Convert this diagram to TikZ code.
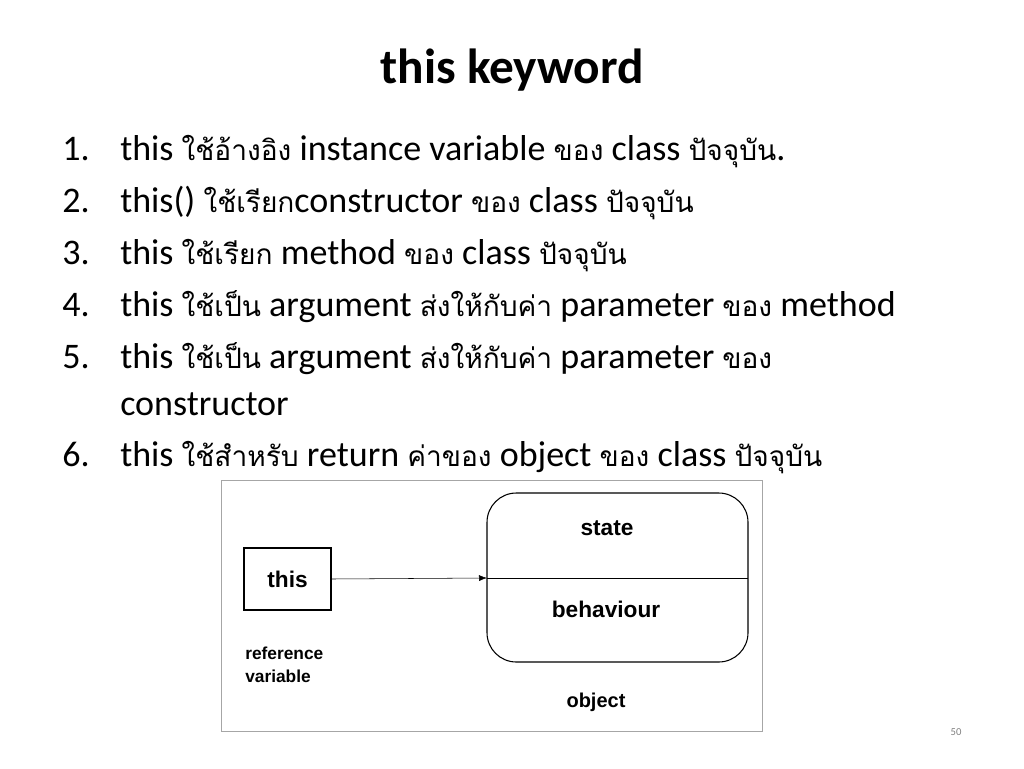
\documentclass[tikz,border=0pt]{standalone}
\usepackage{fontspec}
\setmainfont{Carlito}
\newfontfamily\thaifont[Script=Thai,Scale=0.78]{Loma}
\newfontfamily\diafont{Liberation Sans}
\usetikzlibrary{positioning,arrows.meta}
\newcommand{\thtxt}[1]{{\thaifont #1}}
\tikzset{
  item/.style={anchor=base west,inner sep=0pt,font=\fontsize{27}{32}\selectfont},
  num/.style={anchor=base west,inner sep=0pt,font=\fontsize{27}{32}\selectfont},
  dia/.style={font=\diafont\bfseries\fontsize{17}{20}\selectfont,inner sep=0pt}
}
\begin{document}
\begin{tikzpicture}[x=0.75pt,y=-0.75pt]
    \useasboundingbox (0,0) rectangle (1024,768);

    % Titel
    \node[font=\bfseries\fontsize{37}{42}\selectfont] (title) at (512,70) {this keyword};

    % Liste
    \node[num] (n1) at (62,160) {1.};
    \node[item] (i1) at (120,160) {this \thtxt{ใช้อ้างอิง} instance variable \thtxt{ของ} class \thtxt{ปัจจุบัน}.};
    \node[num] (n2) at (62,212) {2.};
    \node[item] (i2) at (120,212) {this() \thtxt{ใช้เรียก}constructor \thtxt{ของ} class \thtxt{ปัจจุบัน}};
    \node[num] (n3) at (62,264) {3.};
    \node[item] (i3) at (120,264) {this \thtxt{ใช้เรียก} method \thtxt{ของ} class \thtxt{ปัจจุบัน}};
    \node[num] (n4) at (62,316) {4.};
    \node[item] (i4) at (120,316) {this \thtxt{ใช้เป็น} argument \thtxt{ส่งให้กับค่า} parameter \thtxt{ของ} method};
    \node[num] (n5) at (62,368) {5.};
    \node[item] (i5) at (120,368) {this \thtxt{ใช้เป็น} argument \thtxt{ส่งให้กับค่า} parameter \thtxt{ของ}};
    \node[item] (i5b) at (120,415) {constructor};
    \node[num] (n6) at (62,466) {6.};
    \node[item] (i6) at (120,466) {this \thtxt{ใช้สำหรับ} return \thtxt{ค่าของ} object \thtxt{ของ} class \thtxt{ปัจจุบัน}};

    % Bild
    \draw[gray!70] (221,480) rectangle (762,731);
    \node[draw,thick,minimum width=87*0.75pt,minimum height=62*0.75pt,dia] (this) at (287.5,579) {this};
    \draw[thick,rounded corners=22] (487,493) rectangle (748,662);
    \coordinate (objl) at (487,578);
    \coordinate (objr) at (748,578);
    \draw (objl) -- (objr);
    \draw[-{Latex[length=6pt]}] (this.east) -- (objl);
    \node[dia] (state) at (607,528) {state};
    \node[dia] (beh) at (606,609) {behaviour};
    \node[dia,font=\diafont\bfseries\fontsize{13}{17}\selectfont,align=left,anchor=west] (ref) at (245,665) {reference\\variable};
    \node[dia,font=\diafont\bfseries\fontsize{15}{18}\selectfont] (obj) at (596,702) {object};

    \node[text=gray,font=\fontsize{8}{9}\selectfont] (page) at (956,732) {50};
\end{tikzpicture}
\end{document}
